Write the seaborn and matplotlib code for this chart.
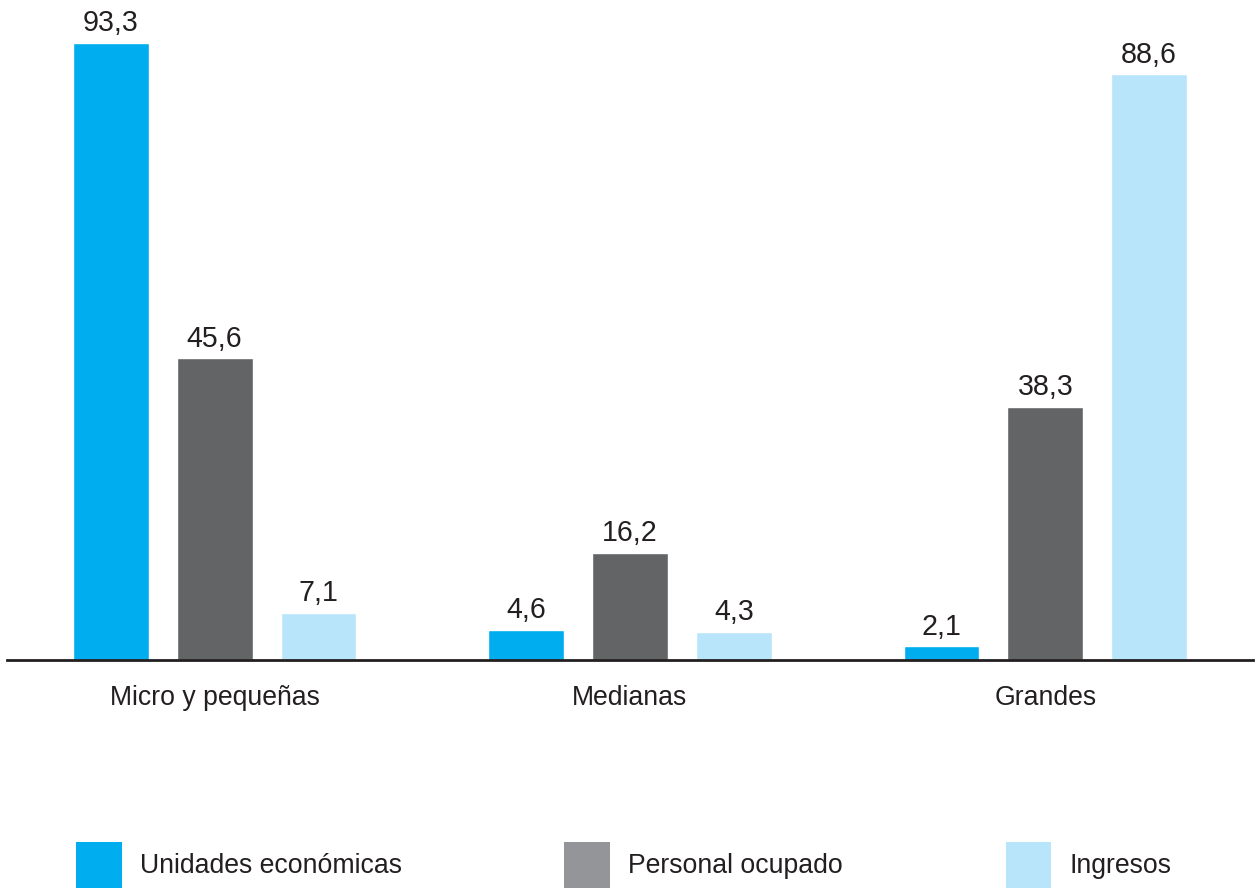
import pandas as pd
import numpy as np
import matplotlib
matplotlib.use('Agg')
import matplotlib.pyplot as plt
import seaborn as sns
from matplotlib.patches import Patch

# data
categories = ['Micro y pequeñas', 'Medianas', 'Grandes']
series = ['Unidades económicas', 'Personal ocupado', 'Ingresos']
unidades = [93.3, 4.6, 2.1]
personal = [45.6, 16.2, 38.3]
ingresos = [7.1, 4.3, 88.6]

bar_colors = ['#00AEEF', '#636466', '#B9E5FB']
legend_colors = ['#00AEEF', '#939598', '#B9E5FB']

df = pd.DataFrame({
    'cat': categories * 3,
    'serie': [series[0]] * 3 + [series[1]] * 3 + [series[2]] * 3,
    'valor': unidades + personal + ingresos,
})

sns.set_style('white')
plt.rcParams['font.family'] = ['Liberation Sans', 'DejaVu Sans']
fs = 19.2      # category / legend text
fs_val = 20.6  # value labels

fig = plt.figure(figsize=(12.6, 8.89), dpi=100)
ax = fig.add_axes([7 / 1260, 1 - 660 / 889, 1246 / 1260, 660 / 889])

sns.barplot(data=df, x='cat', y='valor', hue='serie', order=categories,
            hue_order=series, palette=bar_colors, width=0.75, gap=0.27,
            saturation=1, legend=False, ax=ax)

for cont in ax.containers:
    labs = [f"{b.get_height():.1f}".replace('.', ',') for b in cont]
    ax.bar_label(cont, labels=labs, padding=4, fontsize=fs_val, color='#231F20')

ax.set_xlim(-0.5, 2.5)
ax.set_ylim(0, 660 / (617 / 93.3))
ax.set_xlabel('')
ax.set_ylabel('')
ax.set_yticks([])
ax.tick_params(axis='x', length=0, pad=18, labelsize=fs, labelcolor='#231F20')
for s in ['top', 'left', 'right']:
    ax.spines[s].set_visible(False)
ax.spines['bottom'].set_color('#231F20')
ax.spines['bottom'].set_linewidth(2)

handles = [Patch(facecolor=c, edgecolor='none') for c in legend_colors]
fig.legend(handles, series, loc='center left', bbox_to_anchor=(76 / 1260, 1 - 865 / 889),
           ncol=3, frameon=False, fontsize=fs, handlelength=1.72, handleheight=2.27,
           handletextpad=0.67, columnspacing=6.1, borderpad=0, borderaxespad=0,
           labelcolor='#231F20')

fig.savefig('out.png', dpi=100)
